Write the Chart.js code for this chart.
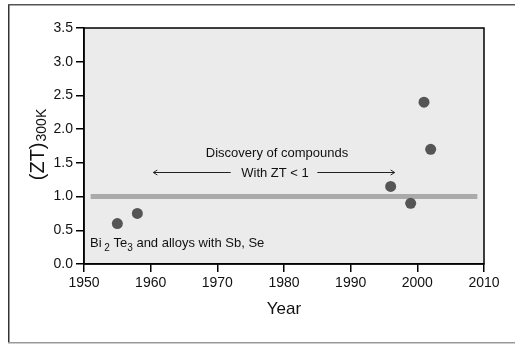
<!DOCTYPE html>
<html>
<head>
<meta charset="utf-8">
<script src="https://cdn.jsdelivr.net/npm/chart.js@4/dist/chart.umd.min.js"></script>
<style>
  html, body { margin: 0; padding: 0; background: #ffffff; }
  #wrap { width: 515px; height: 345px; position: relative; }
</style>
</head>
<body>
<div id="wrap"><canvas id="c" width="515" height="345"></canvas></div>
<script>
// ---- data ----
const years = [1955, 1958, 1996, 1999, 2001, 2002];
const ztValues = [0.6, 0.75, 1.15, 0.9, 2.4, 1.7];
const refLineYears = [1951, 2009];
const refLineValue = [1.0, 1.0];
const xTicks = [1950, 1960, 1970, 1980, 1990, 2000, 2010];
const yTicks = [0.0, 0.5, 1.0, 1.5, 2.0, 2.5, 3.0, 3.5];
const arrowLeftYears = [1972, 1960.4];
const arrowRightYears = [1985, 1996.6];
const arrowValue = 1.36;

const FONT = '"Liberation Sans", Arial, Helvetica, sans-serif';

const decor = {
  id: 'decor',
  beforeDraw(chart) {
    const { ctx, chartArea: a } = chart;
    ctx.save();
    ctx.fillStyle = '#ebebeb';
    ctx.fillRect(a.left, a.top, a.right - a.left, a.bottom - a.top);
    // outer frame (left, top, bottom)
    ctx.strokeStyle = '#333333';
    ctx.lineWidth = 1.5;
    ctx.beginPath(); ctx.moveTo(8.75, 4); ctx.lineTo(8.75, 343); ctx.stroke();
    ctx.strokeStyle = '#555555';
    ctx.beginPath(); ctx.moveTo(8, 4.75); ctx.lineTo(515, 4.75); ctx.stroke();
    ctx.strokeStyle = '#999999';
    ctx.beginPath(); ctx.moveTo(8, 342.75); ctx.lineTo(515, 342.75); ctx.stroke();
    ctx.restore();
  },
  afterDatasetsDraw(chart) {
    const { ctx, chartArea: a, scales: { x, y } } = chart;
    ctx.save();
    // plot box
    ctx.strokeStyle = '#000000';
    ctx.lineWidth = 1.5;
    ctx.strokeRect(a.left, a.top, a.right - a.left, a.bottom - a.top);

    ctx.fillStyle = '#111111';
    ctx.textBaseline = 'alphabetic';
    // discovery text
    ctx.font = '13px ' + FONT;
    ctx.textAlign = 'center';
    ctx.fillText('Discovery of compounds', 277, 157);
    ctx.fillText('With ZT < 1', 275, 177);

    // arrows
    ctx.strokeStyle = '#222222';
    ctx.lineWidth = 1;
    const ay = Math.round(y.getPixelForValue(arrowValue)) + 0.5;
    const drawArrow = (fromYear, toYear) => {
      const x0 = x.getPixelForValue(fromYear), x1 = x.getPixelForValue(toYear);
      const d = Math.sign(x1 - x0);
      ctx.beginPath(); ctx.moveTo(x0, ay); ctx.lineTo(x1, ay); ctx.stroke();
      ctx.beginPath();
      ctx.moveTo(x1 - d * 4, ay - 2.5); ctx.lineTo(x1, ay); ctx.lineTo(x1 - d * 4, ay + 2.5);
      ctx.stroke();
    };
    drawArrow(arrowLeftYears[0], arrowLeftYears[1]);
    drawArrow(arrowRightYears[0], arrowRightYears[1]);

    // Bi2Te3 label with subscripts
    ctx.textAlign = 'left';
    let tx = 90; const ty = 247;
    const seg = (t, size, dy) => {
      ctx.font = size + 'px ' + FONT;
      ctx.fillText(t, tx, ty + dy);
      tx += ctx.measureText(t).width;
    };
    seg('Bi', 13, 0); seg(' 2', 10, 4); seg(' Te', 13, 0); seg('3', 10, 4);
    seg(' and alloys with Sb, Se', 13, 0);

    // axis titles
    ctx.font = '17px ' + FONT;
    ctx.textAlign = 'center';
    ctx.fillText('Year', 284, 314);

    ctx.translate(44, 145);
    ctx.rotate(-Math.PI / 2);
    ctx.textAlign = 'left';
    ctx.font = '20px ' + FONT;
    const m1 = ctx.measureText('(ZT)').width;
    ctx.font = '14px ' + FONT;
    const m2 = ctx.measureText('300K').width;
    let sx = -(m1 + m2) / 2;
    ctx.font = '20px ' + FONT;
    ctx.fillText('(ZT)', sx, 0);
    ctx.font = '14px ' + FONT;
    ctx.fillText('300K', sx + m1 + 1, 2);
    ctx.restore();
  }
};

new Chart(document.getElementById('c'), {
  type: 'scatter',
  data: {
    datasets: [
      {
        type: 'line',
        data: refLineYears.map((v, i) => ({ x: v, y: refLineValue[i] })),
        borderColor: '#aaaaaa',
        borderWidth: 5,
        pointRadius: 0,
        borderCapStyle: 'butt',
        order: 2
      },
      {
        data: years.map((v, i) => ({ x: v, y: ztValues[i] })),
        backgroundColor: '#555555',
        borderColor: '#555555',
        pointRadius: 5.5,
        borderWidth: 0,
        order: 1
      }
    ]
  },
  plugins: [decor],
  options: {
    responsive: false,
    animation: false,
    devicePixelRatio: 1,
    layout: { padding: { left: 0, right: 31, top: 28, bottom: 0 } },
    plugins: { legend: { display: false }, tooltip: { enabled: false } },
    scales: {
      x: {
        type: 'linear',
        min: 1950, max: 2010,
        afterBuildTicks: s => { s.ticks = xTicks.map(v => ({ value: v })); },
        afterFit: s => { s.height = 81; },
        ticks: { color: '#111', font: { family: FONT, size: 14 }, padding: 3, maxRotation: 0, callback: v => String(v) },
        grid: { display: true, drawOnChartArea: false, drawTicks: true, tickLength: 8, color: '#000', lineWidth: 1.5 },
        border: { display: true, color: '#000', width: 1.5 }
      },
      y: {
        type: 'linear',
        min: 0, max: 3.5,
        afterBuildTicks: s => { s.ticks = yTicks.map(v => ({ value: v })); },
        afterFit: s => { s.width = 84; },
        ticks: { color: '#111', font: { family: FONT, size: 14 }, padding: 3, callback: v => v.toFixed(1) },
        grid: { display: true, drawOnChartArea: false, drawTicks: true, tickLength: 8, color: '#000', lineWidth: 1.5 },
        border: { display: true, color: '#000', width: 1.5 }
      }
    }
  }
});
</script>
</body>
</html>
